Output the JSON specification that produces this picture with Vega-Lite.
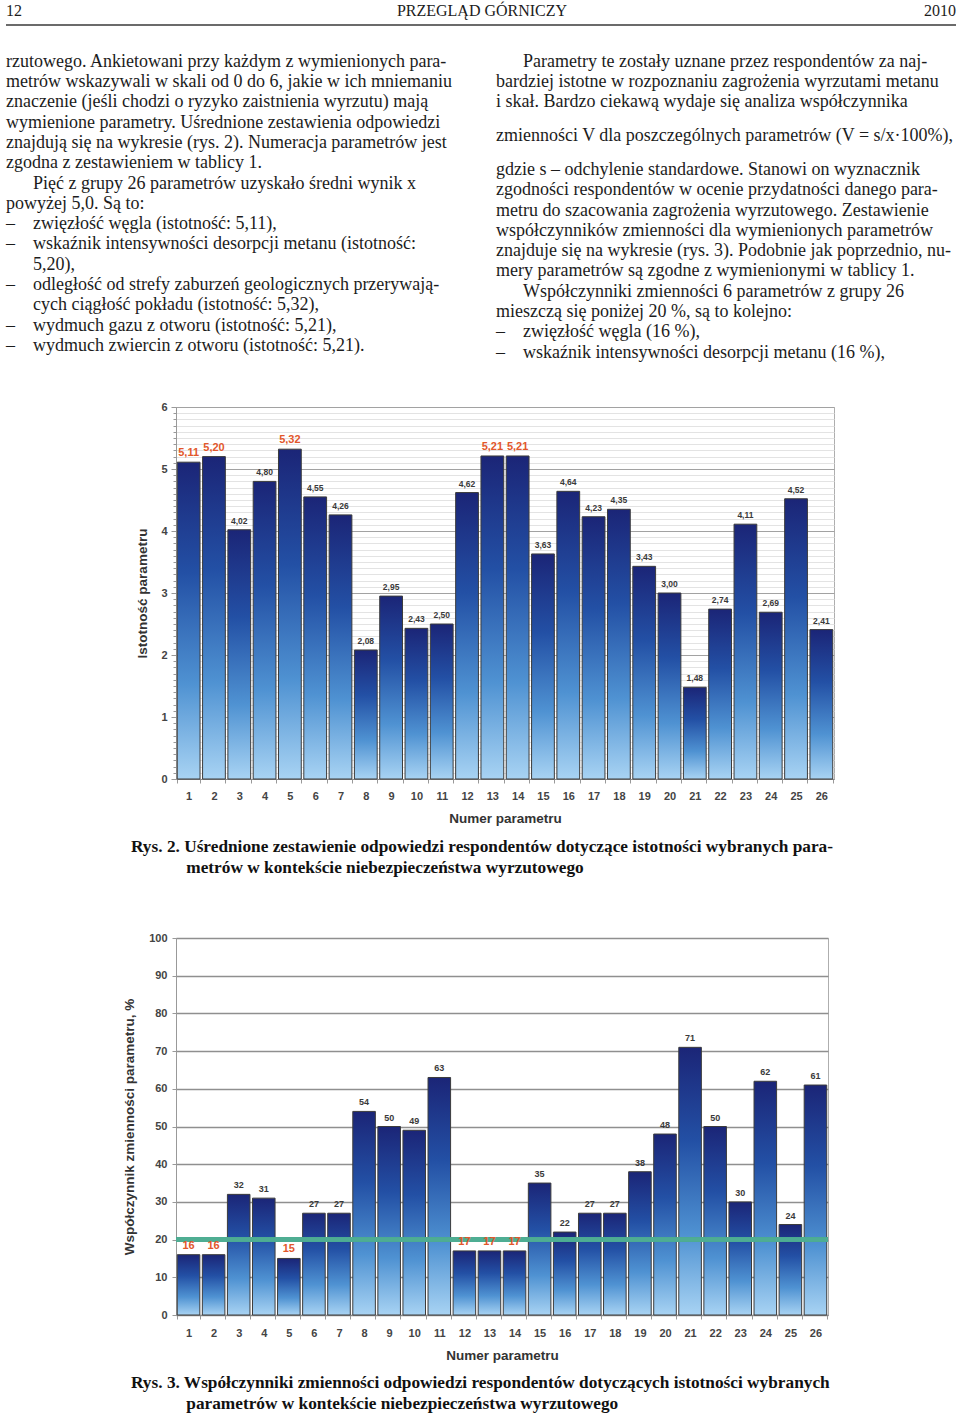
{
  "$schema": "https://vega.github.io/schema/vega-lite/v6.json",
  "background": "white",
  "padding": {"left": 5, "top": 3, "right": 5, "bottom": 2},
  "config": {
    "view": {"stroke": null},
    "font": "Liberation Sans",
    "locale": {"number": {"decimal": ",", "thousands": "\u00a0", "grouping": [3], "currency": ["", " zł"]}}
  },
  "spacing": 23,
  "vconcat": [
    {
      "width": 490,
      "height": 365.4,
      "layer": [
        {
          "data": {"values": [
            {"col": 0, "line": 2.5, "t": "rzutowego. Ankietowani przy każdym z wymienionych para-"},
            {"col": 0, "line": 3.5, "t": "metrów wskazywali w skali od 0 do 6, jakie w ich mniemaniu"},
            {"col": 0, "line": 4.5, "t": "znaczenie (jeśli chodzi o ryzyko zaistnienia wyrzutu) mają"},
            {"col": 0, "line": 5.5, "t": "wymienione parametry. Uśrednione zestawienia odpowiedzi"},
            {"col": 0, "line": 6.5, "t": "znajdują się na wykresie (rys. 2). Numeracja parametrów jest"},
            {"col": 0, "line": 7.5, "t": "zgodna z zestawieniem w tablicy 1."},
            {"col": 0, "line": 8.5, "t": "\u200b\u2003\u2002Pięć z grupy 26 parametrów uzyskało średni wynik x"},
            {"col": 0, "line": 9.5, "t": "powyżej 5,0. Są to:"},
            {"col": 0, "line": 10.5, "t": "–\u2003zwięzłość węgla (istotność: 5,11),"},
            {"col": 0, "line": 11.5, "t": "–\u2003wskaźnik intensywności desorpcji metanu (istotność:"},
            {"col": 0, "line": 12.5, "t": "\u200b\u2003\u20025,20),"},
            {"col": 0, "line": 13.5, "t": "–\u2003odległość od strefy zaburzeń geologicznych przerywają-"},
            {"col": 0, "line": 14.5, "t": "\u200b\u2003\u2002cych ciągłość pokładu (istotność: 5,32),"},
            {"col": 0, "line": 15.5, "t": "–\u2003wydmuch gazu z otworu (istotność: 5,21),"},
            {"col": 0, "line": 16.5, "t": "–\u2003wydmuch zwiercin z otworu (istotność: 5,21)."},
            {"col": 1, "line": 2.5, "t": "\u200b\u2003\u2002Parametry te zostały uznane przez respondentów za naj-"},
            {"col": 1, "line": 3.5, "t": "bardziej istotne w rozpoznaniu zagrożenia wyrzutami metanu"},
            {"col": 1, "line": 4.5, "t": "i skał. Bardzo ciekawą wydaje się analiza współczynnika"},
            {"col": 1, "line": 6.16, "t": "zmienności V dla poszczególnych parametrów (V = s/x·100%),"},
            {"col": 1, "line": 7.83, "t": "gdzie s – odchylenie standardowe. Stanowi on wyznacznik"},
            {"col": 1, "line": 8.83, "t": "zgodności respondentów w ocenie przydatności danego para-"},
            {"col": 1, "line": 9.83, "t": "metru do szacowania zagrożenia wyrzutowego. Zestawienie"},
            {"col": 1, "line": 10.83, "t": "współczynników zmienności dla wymienionych parametrów"},
            {"col": 1, "line": 11.83, "t": "znajduje się na wykresie (rys. 3). Podobnie jak poprzednio, nu-"},
            {"col": 1, "line": 12.83, "t": "mery parametrów są zgodne z wymienionymi w tablicy 1."},
            {"col": 1, "line": 13.83, "t": "\u200b\u2003\u2002Współczynniki zmienności 6 parametrów z grupy 26"},
            {"col": 1, "line": 14.83, "t": "mieszczą się poniżej 20 %, są to kolejno:"},
            {"col": 1, "line": 15.83, "t": "–\u2003zwięzłość węgla (16 %),"},
            {"col": 1, "line": 16.83, "t": "–\u2003wskaźnik intensywności desorpcji metanu (16 %),"}
          ]},
          "mark": {"type": "text", "align": "left", "baseline": "middle", "font": "Liberation Serif", "fontSize": 18, "color": "#1c1c1c"},
          "encoding": {
            "x": {"field": "col", "type": "quantitative", "scale": {"domain": [0.346939, 1.346939], "nice": false, "zero": false}, "axis": null},
            "y": {"field": "line", "type": "quantitative", "scale": {"domain": [0, 18], "nice": false, "zero": false, "reverse": true}, "axis": null},
            "text": {"field": "t"}
          }
        },
        {
          "data": {"values": [{}]},
          "mark": {"type": "text", "align": "left", "baseline": "middle", "font": "Liberation Serif", "fontSize": 16, "color": "#1c1c1c", "text": "12"},
          "encoding": {
            "x": {"datum": 0, "type": "quantitative", "scale": {"domain": [0.346939, 1.346939], "nice": false, "zero": false}, "axis": null},
            "y": {"datum": 0, "type": "quantitative", "scale": {"domain": [0, 18], "nice": false, "zero": false, "reverse": true}, "axis": null}
          }
        },
        {
          "data": {"values": [{}]},
          "mark": {"type": "text", "align": "center", "baseline": "middle", "font": "Liberation Serif", "fontSize": 16, "color": "#1c1c1c", "text": "PRZEGLĄD GÓRNICZY"},
          "encoding": {
            "x": {"datum": 0.97143, "type": "quantitative", "scale": {"domain": [0.346939, 1.346939], "nice": false, "zero": false}, "axis": null},
            "y": {"datum": 0, "type": "quantitative", "scale": {"domain": [0, 18], "nice": false, "zero": false, "reverse": true}, "axis": null}
          }
        },
        {
          "data": {"values": [{}]},
          "mark": {"type": "text", "align": "right", "baseline": "middle", "font": "Liberation Serif", "fontSize": 16, "color": "#1c1c1c", "text": "2010"},
          "encoding": {
            "x": {"datum": 1.93878, "type": "quantitative", "scale": {"domain": [0.346939, 1.346939], "nice": false, "zero": false}, "axis": null},
            "y": {"datum": 0, "type": "quantitative", "scale": {"domain": [0, 18], "nice": false, "zero": false, "reverse": true}, "axis": null}
          }
        },
        {
          "data": {"values": [{}]},
          "mark": {"type": "rule", "color": "#3a3a3a", "strokeWidth": 1.5},
          "encoding": {
            "x": {"datum": 0, "type": "quantitative", "scale": {"domain": [0.346939, 1.346939], "nice": false, "zero": false}, "axis": null},
            "x2": {"datum": 1.93878},
            "y": {"datum": 0.69, "type": "quantitative", "scale": {"domain": [0, 18], "nice": false, "zero": false, "reverse": true}, "axis": null}
          }
        }
      ]
    },
    {
      "spacing": 54,
      "vconcat": [
        {
          "width": 658,
          "height": 372,
          "view": {"stroke": "#aeaeae"},
          "title": {
            "text": ["Rys. 2. Uśrednione zestawienie odpowiedzi respondentów dotyczące istotności wybranych para-", "\u200b\u2003\u2003\u2003\u2009metrów w kontekście niebezpieczeństwa wyrzutowego"],
            "orient": "bottom", "anchor": "start", "frame": "group", "dx": -45, "offset": 13,
            "font": "Liberation Serif", "fontSize": 17.3, "fontWeight": "bold", "color": "#111111", "lineHeight": 21, "baseline": "top"
          },
          "data": {"values": [
            {"n": 1, "v": 5.11}, {"n": 2, "v": 5.20}, {"n": 3, "v": 4.02}, {"n": 4, "v": 4.80}, {"n": 5, "v": 5.32},
            {"n": 6, "v": 4.55}, {"n": 7, "v": 4.26}, {"n": 8, "v": 2.08}, {"n": 9, "v": 2.95}, {"n": 10, "v": 2.43},
            {"n": 11, "v": 2.50}, {"n": 12, "v": 4.62}, {"n": 13, "v": 5.21}, {"n": 14, "v": 5.21}, {"n": 15, "v": 3.63},
            {"n": 16, "v": 4.64}, {"n": 17, "v": 4.23}, {"n": 18, "v": 4.35}, {"n": 19, "v": 3.43}, {"n": 20, "v": 3.00},
            {"n": 21, "v": 1.48}, {"n": 22, "v": 2.74}, {"n": 23, "v": 4.11}, {"n": 24, "v": 2.69}, {"n": 25, "v": 4.52},
            {"n": 26, "v": 2.41}
          ]},
          "encoding": {
            "x": {
              "field": "n", "type": "ordinal",
              "scale": {"paddingInner": 0.1, "paddingOuter": 0.05},
              "axis": {"title": "Numer parametru", "labelAngle": 0, "tickBand": "extent", "tickSize": 4, "tickColor": "#999999", "domainColor": "#888888",
                       "labelFontSize": 11, "labelFontWeight": "bold", "labelColor": "#444444", "labelPadding": 7,
                       "titleFontSize": 13.5, "titleFontWeight": "bold", "titleColor": "#333333", "titlePadding": 10}
            },
            "y": {
              "field": "v", "type": "quantitative",
              "scale": {"domain": [0, 6], "nice": false},
              "axis": {
                "title": "Istotność parametru",
                "values": [0,0.1,0.2,0.3,0.4,0.5,0.6,0.7,0.8,0.9,1,1.1,1.2,1.3,1.4,1.5,1.6,1.7,1.8,1.9,2,2.1,2.2,2.3,2.4,2.5,2.6,2.7,2.8,2.9,3,3.1,3.2,3.3,3.4,3.5,3.6,3.7,3.8,3.9,4,4.1,4.2,4.3,4.4,4.5,4.6,4.7,4.8,4.9,5,5.1,5.2,5.3,5.4,5.5,5.6,5.7,5.8,5.9,6],
                "grid": true,
                "gridColor": {"condition": {"test": "datum.value % 1 === 0", "value": "#a2a2a2"}, "value": "#e3e3e3"},
                "labelExpr": "datum.value % 1 === 0 ? toString(datum.value) : ''",
                "labelOverlap": false,
                "tickSize": {"condition": {"test": "datum.value % 1 === 0", "value": 5}, "value": 3},
                "tickColor": "#999999", "domainColor": "#999999",
                "labelFontSize": 11, "labelFontWeight": "bold", "labelColor": "#444444", "labelPadding": 4,
                "titleFontSize": 13.5, "titleFontWeight": "bold", "titleColor": "#333333", "titlePadding": 11
              }
            }
          },
          "layer": [
            {
              "mark": {
                "type": "bar", "stroke": "#3c3c3c", "strokeWidth": 1,
                "fill": {"gradient": "linear", "x1": 0, "y1": 0, "x2": 0, "y2": 1,
                         "stops": [{"offset": 0, "color": "#1b2577"}, {"offset": 0.35, "color": "#2350a5"}, {"offset": 0.7, "color": "#4f92d2"}, {"offset": 1, "color": "#a8d3f3"}]}
              }
            },
            {
              "mark": {"type": "text", "baseline": "bottom", "dy": -4, "fontWeight": "bold"},
              "encoding": {
                "text": {"field": "v", "type": "quantitative", "format": ".2f"},
                "color": {"condition": {"test": "datum.v > 5", "value": "#e2572b"}, "value": "#3a3a3a"},
                "size": {"condition": {"test": "datum.v > 5", "value": 11}, "value": 8.5}
              }
            }
          ]
        },
        {
          "width": 652,
          "height": 377,
          "view": {"stroke": "#aeaeae"},
          "title": {
            "text": ["Rys. 3. Współczynniki zmienności odpowiedzi respondentów dotyczących istotności wybranych", "\u200b\u2003\u2003\u2003\u2009parametrów w kontekście niebezpieczeństwa wyrzutowego"],
            "orient": "bottom", "anchor": "start", "frame": "group", "dx": -45, "offset": 12,
            "font": "Liberation Serif", "fontSize": 17.3, "fontWeight": "bold", "color": "#111111", "lineHeight": 21, "baseline": "top"
          },
          "data": {"values": [
            {"n": 1, "v": 16}, {"n": 2, "v": 16}, {"n": 3, "v": 32}, {"n": 4, "v": 31}, {"n": 5, "v": 15},
            {"n": 6, "v": 27}, {"n": 7, "v": 27}, {"n": 8, "v": 54}, {"n": 9, "v": 50}, {"n": 10, "v": 49},
            {"n": 11, "v": 63}, {"n": 12, "v": 17}, {"n": 13, "v": 17}, {"n": 14, "v": 17}, {"n": 15, "v": 35},
            {"n": 16, "v": 22}, {"n": 17, "v": 27}, {"n": 18, "v": 27}, {"n": 19, "v": 38}, {"n": 20, "v": 48},
            {"n": 21, "v": 71}, {"n": 22, "v": 50}, {"n": 23, "v": 30}, {"n": 24, "v": 62}, {"n": 25, "v": 24},
            {"n": 26, "v": 61}
          ]},
          "layer": [
            {
              "mark": {
                "type": "bar", "stroke": "#3c3c3c", "strokeWidth": 1,
                "fill": {"gradient": "linear", "x1": 0, "y1": 0, "x2": 0, "y2": 1,
                         "stops": [{"offset": 0, "color": "#1b2577"}, {"offset": 0.35, "color": "#2350a5"}, {"offset": 0.7, "color": "#4f92d2"}, {"offset": 1, "color": "#a8d3f3"}]}
              },
              "encoding": {
                "x": {
                  "field": "n", "type": "ordinal",
                  "scale": {"paddingInner": 0.1, "paddingOuter": 0.05},
                  "axis": {"title": "Numer parametru", "labelAngle": 0, "tickBand": "extent", "tickSize": 4, "tickColor": "#999999", "domainColor": "#888888",
                           "labelFontSize": 11, "labelFontWeight": "bold", "labelColor": "#444444", "labelPadding": 8,
                           "titleFontSize": 13.5, "titleFontWeight": "bold", "titleColor": "#333333", "titlePadding": 10}
                },
                "y": {
                  "field": "v", "type": "quantitative",
                  "scale": {"domain": [0, 100], "nice": false},
                  "axis": {
                    "title": "Współczynnik zmienności parametru, %",
                    "values": [0, 10, 20, 30, 40, 50, 60, 70, 80, 90, 100],
                    "labelOverlap": false,
                    "grid": true, "gridColor": "#8f8f8f", "gridWidth": 1.5,
                    "tickSize": 4, "tickColor": "#999999", "domainColor": "#999999",
                    "labelFontSize": 11, "labelFontWeight": "bold", "labelColor": "#444444", "labelPadding": 5,
                    "titleFontSize": 13.5, "titleFontWeight": "bold", "titleColor": "#333333", "titlePadding": 12
                  }
                }
              }
            },
            {
              "mark": {"type": "rule", "color": "#4fae93", "strokeWidth": 4, "opacity": 0.75},
              "encoding": {
                "y": {
                  "datum": 20, "type": "quantitative",
                  "scale": {"domain": [0, 100], "nice": false},
                  "axis": {
                    "title": "Współczynnik zmienności parametru, %",
                    "values": [0, 10, 20, 30, 40, 50, 60, 70, 80, 90, 100],
                    "labelOverlap": false,
                    "grid": true, "gridColor": "#8f8f8f", "gridWidth": 1.5,
                    "tickSize": 4, "tickColor": "#999999", "domainColor": "#999999",
                    "labelFontSize": 11, "labelFontWeight": "bold", "labelColor": "#444444", "labelPadding": 5,
                    "titleFontSize": 13.5, "titleFontWeight": "bold", "titleColor": "#333333", "titlePadding": 12
                  }
                }
              }
            },
            {
              "mark": {"type": "text", "baseline": "bottom", "dy": -4, "fontWeight": "bold"},
              "encoding": {
                "x": {
                  "field": "n", "type": "ordinal",
                  "scale": {"paddingInner": 0.1, "paddingOuter": 0.05},
                  "axis": {"title": "Numer parametru", "labelAngle": 0, "tickBand": "extent", "tickSize": 4, "tickColor": "#999999", "domainColor": "#888888",
                           "labelFontSize": 11, "labelFontWeight": "bold", "labelColor": "#444444", "labelPadding": 8,
                           "titleFontSize": 13.5, "titleFontWeight": "bold", "titleColor": "#333333", "titlePadding": 10}
                },
                "y": {
                  "field": "v", "type": "quantitative",
                  "scale": {"domain": [0, 100], "nice": false},
                  "axis": {
                    "title": "Współczynnik zmienności parametru, %",
                    "values": [0, 10, 20, 30, 40, 50, 60, 70, 80, 90, 100],
                    "labelOverlap": false,
                    "grid": true, "gridColor": "#8f8f8f", "gridWidth": 1.5,
                    "tickSize": 4, "tickColor": "#999999", "domainColor": "#999999",
                    "labelFontSize": 11, "labelFontWeight": "bold", "labelColor": "#444444", "labelPadding": 5,
                    "titleFontSize": 13.5, "titleFontWeight": "bold", "titleColor": "#333333", "titlePadding": 12
                  }
                },
                "text": {"field": "v", "type": "quantitative", "format": "d"},
                "color": {"condition": {"test": "datum.v < 20", "value": "#e2572b"}, "value": "#3a3a3a"},
                "size": {"condition": {"test": "datum.v < 20", "value": 11}, "value": 9}
              }
            }
          ]
        }
      ]
    }
  ]
}
